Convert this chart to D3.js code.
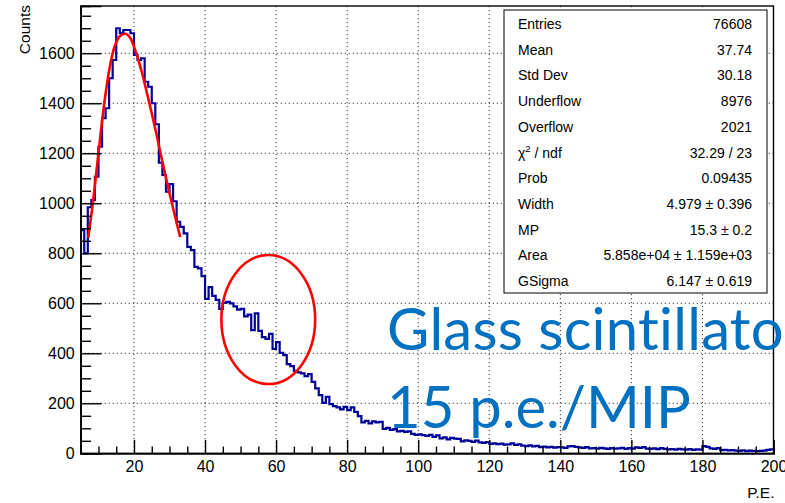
<!DOCTYPE html>
<html>
<head>
<meta charset="utf-8">
<script src="https://cdn.jsdelivr.net/npm/d3@7"></script>
<style>
  html, body { margin: 0; padding: 0; background: #fff; overflow: hidden; }
  svg { display: block; }
</style>
</head>
<body>
<svg id="chart" width="785" height="503"></svg>
<script>
// Histogram binning: 1 P.E. wide bins from 5 to 200
const binLow = 5;
const binWidth = 1;
const xRange = [5, 200];
const yMax = 1789;

// Counts per bin, bins starting at 5, 6, 7, ... 199
const counts = [
  893, 800, 984, 1013, 1106, 1226, 1340, 1380, 1500, 1573,   // 5-14
  1700, 1680, 1693, 1693, 1680, 1593, 1573, 1580, 1486, 1466, // 15-24
  1400, 1316, 1162, 1113, 1046, 1077, 1008, 926, 906, 880,    // 25-34
  826, 813, 746, 740, 709, 618, 665, 630, 614, 578,           // 35-44
  602, 606, 600, 588, 575, 578, 548, 555, 493, 560,           // 45-54
  490, 465, 458, 478, 418, 445, 402, 393, 357, 349,           // 55-64
  330, 324, 320, 309, 317, 286, 260, 233, 202, 226,           // 65-74
  197, 189, 184, 176, 186, 173, 184, 166, 149, 124,           // 75-84
  130, 120, 128, 124, 126, 98, 102, 94, 97, 88,               // 85-94
  90, 86, 88, 78, 74, 76, 73, 70, 74, 66,                     // 95-104
  72, 60, 64, 56, 62, 59, 58, 48, 52, 50,                     // 105-114
  46, 51, 44, 42, 45, 38, 40, 37, 39, 35,                     // 115-124
  36, 40, 34, 36, 31, 29, 32, 28, 30, 25,                     // 125-134
  27, 24, 26, 23, 25, 24, 22, 28, 29, 26,                     // 135-144
  24, 22, 25, 20, 21, 19, 22, 20, 18, 21,                     // 145-154
  19, 20, 22, 18, 21, 19, 24, 22, 25, 19,                     // 155-164
  18, 20, 17, 21, 18, 16, 17, 15, 18, 16,                     // 165-174
  15, 17, 14, 16, 15, 29, 26, 20, 18, 21,                     // 175-184
  13, 14, 12, 13, 11, 10, 12, 9, 11, 10,                      // 185-194
  9, 10, 11, 14, 16                                           // 195-199
];

// Fitted Landau (x) Gaussian curve, sampled along the fit range
const fitX = [7.1, 8.5, 10, 11.5, 13, 14.5, 16, 17.6, 19, 20.5, 22, 23.5, 25, 26.5, 28, 29.5, 31, 33];
const fitY = [860, 1010, 1200, 1385, 1530, 1625, 1668, 1678, 1660, 1605, 1535, 1450, 1360, 1265, 1165, 1070, 980, 865];

// Axis ticks
const xMajor = [20, 40, 60, 80, 100, 120, 140, 160, 180, 200];
const yMajor = [0, 200, 400, 600, 800, 1000, 1200, 1400, 1600];
const xTitle = "P.E.";
const yTitle = "Counts";

// Statistics box
const statLabels = ["Entries", "Mean", "Std Dev", "Underflow", "Overflow", "CHI2", "Prob", "Width", "MP", "Area", "GSigma"];
const statValues = ["76608", "37.74", "30.18", "8976", "2021", "32.29 / 23", "0.09435",
                    "4.979 \u00b1 0.396", "15.3 \u00b1 0.2", "5.858e+04 \u00b1 1.159e+03", "6.147 \u00b1 0.619"];

// Highlighted region (centre and half-widths in data units)
const ringCenter = [57.8, 535];
const ringRadius = [13.2, 258];

// Annotation lines
const noteLines = ["Glass scintillator", "15 p.e./MIP"];

const svg = d3.select("#chart");
const frame = { left: 80.7, right: 773.5, top: 6, bottom: 453.3 };

const x = d3.scaleLinear().domain(xRange).range([frame.left, frame.right]);
const y = d3.scaleLinear().domain([0, yMax]).range([frame.bottom, frame.top]);

const font = "'Liberation Sans', Arial, Helvetica, sans-serif";

// Dotted grid
const grid = svg.append("g").attr("stroke", "#333").attr("stroke-width", 1)
  .attr("stroke-dasharray", "1.2,2.8");
grid.selectAll("line.v").data(xMajor.filter(d => d < xRange[1])).join("line")
  .attr("x1", d => x(d)).attr("x2", d => x(d))
  .attr("y1", frame.top).attr("y2", frame.bottom);
grid.selectAll("line.h").data(yMajor.filter(d => d > 0)).join("line")
  .attr("x1", frame.left).attr("x2", frame.right)
  .attr("y1", d => y(d)).attr("y2", d => y(d));

// Histogram drawn as steps
const stepPts = counts.map((c, i) => [binLow + i * binWidth, c]);
stepPts.push([binLow + counts.length * binWidth, counts[counts.length - 1]]);
const stepLine = d3.line().x(d => x(d[0])).y(d => y(d[1])).curve(d3.curveStepAfter);
svg.append("path")
  .attr("d", stepLine(stepPts))
  .attr("fill", "none")
  .attr("stroke", "#000099")
  .attr("stroke-width", 2.2)
  .attr("stroke-linejoin", "miter");

// Fit curve
const fitLine = d3.line().x(d => x(d[0])).y(d => y(d[1])).curve(d3.curveCatmullRom);
svg.append("path")
  .attr("d", fitLine(fitX.map((v, i) => [v, fitY[i]])))
  .attr("fill", "none")
  .attr("stroke", "#ff0000")
  .attr("stroke-width", 2.6);

// Frame
svg.append("rect")
  .attr("x", frame.left).attr("y", frame.top)
  .attr("width", frame.right - frame.left).attr("height", frame.bottom - frame.top)
  .attr("fill", "none").attr("stroke", "#000").attr("stroke-width", 1.4);

// Axes with ticks pointing into the frame
const yMinor = d3.range(0, yMax, 50).filter(d => d % 200 !== 0);
const xMinor = d3.range(5, 201, 5).filter(d => d % 20 !== 0);

svg.append("g").attr("transform", `translate(${frame.left},0)`)
  .call(d3.axisLeft(y).tickValues(yMajor).tickSize(-20.8).tickPadding(6).tickFormat(d3.format("d")));
svg.append("g").attr("transform", `translate(${frame.left},0)`)
  .call(d3.axisLeft(y).tickValues(yMinor).tickSize(-10.4).tickFormat(""));

svg.append("g").attr("transform", `translate(0,${frame.bottom})`)
  .call(d3.axisBottom(x).tickValues(xMajor).tickSize(-13.4).tickPadding(7).tickFormat(d3.format("d")));
svg.append("g").attr("transform", `translate(0,${frame.bottom})`)
  .call(d3.axisBottom(x).tickValues(xMinor).tickSize(-6.7).tickFormat(""));

svg.selectAll(".domain").attr("stroke", "#000").attr("stroke-width", 1.6);
svg.selectAll(".tick line").attr("stroke", "#000").attr("stroke-width", 1.4);
svg.selectAll(".tick text").attr("font-family", font).attr("font-size", 16).attr("fill", "#000");

// Axis titles
svg.append("text")
  .attr("transform", `translate(30,${frame.top - 1}) rotate(-90)`)
  .attr("text-anchor", "end")
  .attr("font-family", font).attr("font-size", 15.5)
  .text(yTitle);
svg.append("text")
  .attr("x", frame.right + 1).attr("y", 498)
  .attr("text-anchor", "end")
  .attr("font-family", font).attr("font-size", 15.5)
  .text(xTitle);

// Statistics box
const box = { x: 504, y: 10, w: 263, h: 283 };
const stats = svg.append("g");
stats.append("rect")
  .attr("x", box.x).attr("y", box.y).attr("width", box.w).attr("height", box.h)
  .attr("fill", "#fff").attr("stroke", "#000").attr("stroke-width", 1);
const rowH = box.h / statLabels.length;
statLabels.forEach((lab, i) => {
  const yy = box.y + rowH * (i + 0.5) + 6;
  const t = stats.append("text")
    .attr("x", box.x + 14).attr("y", yy)
    .attr("font-family", font).attr("font-size", 14);
  if (lab === "CHI2") {
    t.append("tspan").text("\u03c7");
    t.append("tspan").attr("font-size", 9.5).attr("dy", -6).text("2");
    t.append("tspan").attr("dy", 6).text(" / ndf");
  } else {
    t.text(lab);
  }
  stats.append("text")
    .attr("x", box.x + box.w - 15).attr("y", yy)
    .attr("text-anchor", "end")
    .attr("font-family", font).attr("font-size", 14)
    .text(statValues[i]);
});

// Highlight ring
svg.append("ellipse")
  .attr("cx", x(ringCenter[0])).attr("cy", y(ringCenter[1]))
  .attr("rx", x(ringCenter[0] + ringRadius[0]) - x(ringCenter[0]))
  .attr("ry", y(ringCenter[1] - ringRadius[1]) - y(ringCenter[1]))
  .attr("fill", "none").attr("stroke", "#ff0000").attr("stroke-width", 2.6);

// Annotation text, sized from the second line's width
const noteFont = "Lato, 'Open Sans', sans-serif";
const probe = svg.append("text").attr("font-family", noteFont).attr("font-size", 100).text(noteLines[1]);
const w100 = probe.node().getComputedTextLength();
probe.text(noteLines[0].slice(0, -1));
const w100a = probe.node().getComputedTextLength();
probe.remove();
const noteSize = 100 * 304 / w100;
// first line runs off the right edge just after its second-last letter
const spacing1 = (398 - w100a * noteSize / 100) / (noteLines[0].length - 1);
svg.append("text")
  .attr("x", 387).attr("y", 350)
  .attr("font-family", noteFont).attr("font-size", noteSize)
  .attr("letter-spacing", spacing1)
  .attr("fill", "#0070c0")
  .text(noteLines[0]);
svg.append("text")
  .attr("x", 387).attr("y", 428)
  .attr("font-family", noteFont).attr("font-size", noteSize)
  .attr("fill", "#0070c0")
  .text(noteLines[1]);
</script>
</body>
</html>
